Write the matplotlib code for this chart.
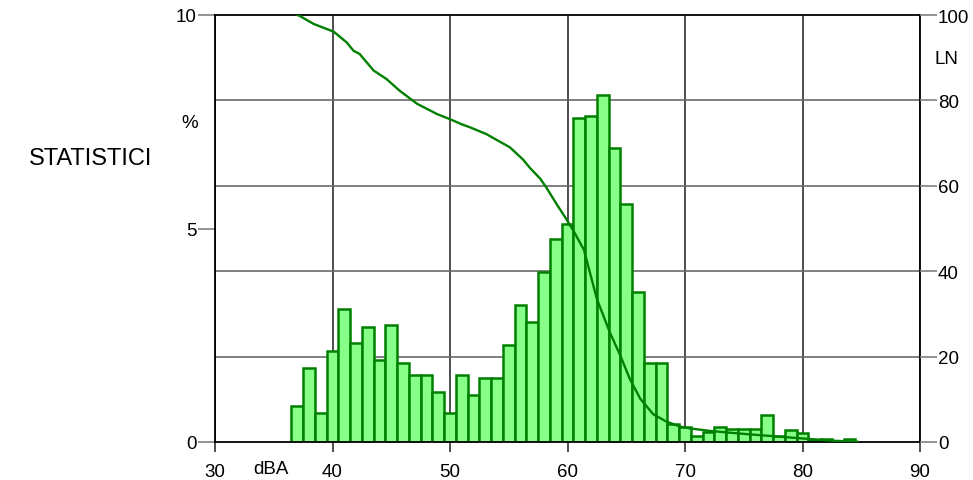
import matplotlib
matplotlib.use("Agg")
import matplotlib.pyplot as plt

plt.rcParams['font.family'] = ['Liberation Sans', 'DejaVu Sans']

# histogram: level (dBA) -> percent of time
levels = list(range(37, 85))
percent = [0.84, 1.73, 0.69, 2.13, 3.11, 2.33, 2.69, 1.93, 2.75, 1.85,
           1.58, 1.58, 1.17, 0.69, 1.58, 1.10, 1.50, 1.51, 2.26, 3.22,
           2.81, 3.99, 4.75, 5.11, 7.58, 7.64, 8.13, 6.89, 5.57, 3.51,
           1.86, 1.86, 0.42, 0.36, 0.15, 0.23, 0.36, 0.30, 0.30, 0.30,
           0.63, 0.15, 0.29, 0.22, 0.05, 0.07, 0.02, 0.07]

# LN curve (percent of time level exceeded)
ln_db = [37.0, 37.2, 38.4, 40.1, 41.2, 41.8, 42.3, 43.5, 44.6, 45.7, 47.2,
         48.9, 50.0, 51.0, 51.7, 53.1, 55.1, 56.2, 56.8, 57.7, 58.2, 59.1,
         59.9, 60.5, 61.1, 61.4, 62.5, 63.6, 64.5, 65.3, 66.2, 67.3, 68.4,
         69.6, 70.4, 72.1, 75.0, 77.8, 80.6, 82.6, 84.7]
ln_val = [100.0, 99.8, 97.9, 96.1, 93.6, 91.6, 90.9, 87.0, 85.0, 82.3, 79.2,
          76.8, 75.6, 74.4, 73.7, 72.1, 69.0, 66.2, 64.2, 61.6, 59.6, 55.6,
          52.2, 49.5, 46.5, 45.0, 33.5, 25.7, 20.2, 14.8, 10.1, 6.5, 4.8,
          3.6, 3.2, 2.6, 1.9, 1.3, 0.7, 0.3, 0.05]

x_ticks = [30, 40, 50, 60, 70, 80, 90]
left_ticks = [0, 5, 10]
right_ticks = [0, 20, 40, 60, 80, 100]

fig = plt.figure(figsize=(9.73, 4.81), dpi=100)
ax = fig.add_axes([215 / 973, 1 - 443 / 481, 705 / 973, 427 / 481])

ax.bar(levels, percent, width=1.0, color='#88ff88', edgecolor='#008000',
       linewidth=1.8, zorder=2)
ax.set_xlim(30, 90)
ax.set_ylim(0, 10)
ax.set_xticks(x_ticks)
ax.set_yticks(left_ticks)
ax.set_yticks([2, 4, 6, 8], minor=True)
ax.set_axisbelow(True)
ax.grid(axis='x', color='#303030', linewidth=1.2)
ax.grid(axis='y', which='minor', color='#6a6a6a', linewidth=1.2)
ax.tick_params(axis='y', which='minor', length=0)
ax.tick_params(axis='y', direction='out', length=12, width=1.2,
               color='#808080', pad=1, labelsize=13.5)
ax.tick_params(axis='x', direction='out', length=7, width=1.2,
               color='#303030', pad=8, labelsize=13.5)
for s in ax.spines.values():
    s.set_linewidth(1.3)
    s.set_color('black')

ax2 = ax.twinx()
ax2.plot(ln_db, ln_val, color='#008000', linewidth=1.7)
ax2.set_ylim(0, 100)
ax2.set_yticks(right_ticks)
ax2.tick_params(axis='y', direction='out', length=12, width=1.2,
                color='#808080', pad=1, labelsize=13.5)
for s in ax2.spines.values():
    s.set_visible(False)

fig.text(152 / 973, 1 - 159 / 481, 'STATISTICI', fontsize=17,
         ha='right', va='center')
fig.text(190 / 973, 1 - 124 / 481, '%', fontsize=13.5, ha='center', va='center')
fig.text(946 / 973, 1 - 60 / 481, 'LN', fontsize=13.5, ha='center', va='center')
fig.text(271 / 973, 1 - 470 / 481, 'dBA', fontsize=13.5, ha='center', va='center')

fig.savefig('out.png', dpi=100)
